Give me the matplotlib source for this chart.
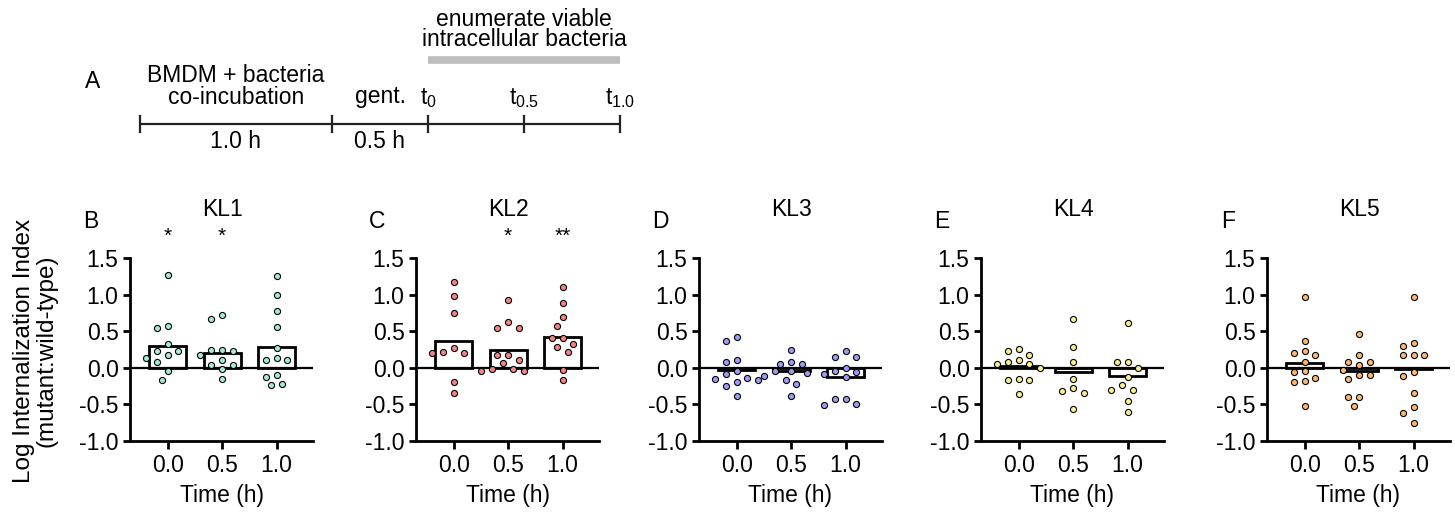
import numpy as np
import matplotlib
matplotlib.use("Agg")
import matplotlib.pyplot as plt

plt.rcParams['font.family'] = ['Liberation Sans', 'DejaVu Sans']
plt.rcParams['axes.unicode_minus'] = False
plt.rcParams['mathtext.fontset'] = 'custom'
plt.rcParams['mathtext.rm'] = 'Liberation Sans'
plt.rcParams['mathtext.it'] = 'Liberation Sans'

# ---------------- data ----------------
time_labels = ["0.0", "0.5", "1.0"]
panel_letters = ["B", "C", "D", "E", "F"]
panel_titles = ["KL1", "KL2", "KL3", "KL4", "KL5"]
panel_colors = ["#A3EBD3", "#F48383", "#9C9CF2", "#F8F08E", "#FBB86E"]

kl1_t00 = [1.27, 0.57, 0.55, 0.32, 0.23, 0.23, 0.17, 0.14, 0.08, -0.05, -0.16]
kl1_t05 = [0.72, 0.66, 0.25, 0.23, 0.25, 0.17, 0.11, 0.04, 0.04, -0.02, -0.15]
kl1_t10 = [1.25, 0.99, 0.77, 0.56, 0.27, 0.14, 0.10, 0.10, -0.10, -0.13, -0.22, -0.24]

kl2_t00 = [1.17, 0.98, 0.75, 0.27, 0.20, 0.20, 0.22, -0.20, -0.34]
kl2_t05 = [0.92, 0.62, 0.55, 0.54, 0.17, 0.17, 0.10, 0.07, -0.01, -0.02, -0.05, -0.05]
kl2_t10 = [1.11, 0.89, 0.69, 0.57, 0.41, 0.41, 0.33, 0.29, 0.22, -0.03, -0.16]

kl3_t00 = [0.42, 0.36, 0.11, 0.08, -0.05, -0.08, -0.15, -0.14, -0.17, -0.20, -0.25, -0.38]
kl3_t05 = [0.25, 0.08, 0.05, 0.05, -0.05, -0.05, -0.07, -0.11, -0.16, -0.22, -0.39]
kl3_t10 = [0.23, 0.15, 0.15, 0.00, -0.06, -0.05, -0.08, -0.13, -0.43, -0.43, -0.51, -0.49]

kl4_t00 = [0.26, 0.23, 0.18, 0.11, 0.08, 0.05, 0.05, 0.00, -0.15, -0.17, -0.16, -0.36]
kl4_t05 = [0.66, 0.28, 0.08, -0.15, -0.28, -0.35, -0.32, -0.56]
kl4_t10 = [0.61, 0.08, 0.08, 0.00, -0.13, -0.23, -0.31, -0.30, -0.45, -0.60]

kl5_t00 = [0.97, 0.36, 0.23, 0.20, 0.17, 0.08, -0.05, -0.06, -0.14, -0.18, -0.20, -0.52]
kl5_t05 = [0.46, 0.17, 0.08, 0.08, 0.04, -0.03, -0.10, -0.10, -0.15, -0.40, -0.40, -0.52]
kl5_t10 = [0.97, 0.34, 0.30, 0.17, 0.17, 0.17, -0.06, -0.11, -0.34, -0.54, -0.62, -0.75]

kl1_bars = [0.30, 0.20, 0.29]
kl2_bars = [0.36, 0.24, 0.42]
kl3_bars = [-0.03, -0.04, -0.13]
kl4_bars = [0.02, -0.06, -0.11]
kl5_bars = [0.06, -0.05, -0.01]

kl1_stars = ["*", "*", ""]
kl2_stars = ["", "*", "**"]
kl3_stars = ["", "", ""]
kl4_stars = ["", "", ""]
kl5_stars = ["", "", ""]

# timeline (schematic, in hours)
phase_labels = ["BMDM + bacteria\nco-incubation", "gent."]
phase_hours = [1.0, 0.5]
phase_duration_labels = ["1.0 h", "0.5 h"]
sample_hours = [0.0, 0.5, 1.0]
sample_labels = ["0", "0.5", "1.0"]

panels = [
    (kl1_t00, kl1_t05, kl1_t10, kl1_bars, kl1_stars),
    (kl2_t00, kl2_t05, kl2_t10, kl2_bars, kl2_stars),
    (kl3_t00, kl3_t05, kl3_t10, kl3_bars, kl3_stars),
    (kl4_t00, kl4_t05, kl4_t10, kl4_bars, kl4_stars),
    (kl5_t00, kl5_t05, kl5_t10, kl5_bars, kl5_stars),
]

# ---------------- layout ----------------
W, H = 1455, 515
fig = plt.figure(figsize=(W / 100, H / 100), dpi=100)


def px_axes(l, t, r, b):
    return fig.add_axes([l / W, 1 - b / H, (r - l) / W, (b - t) / H])


XLIM = (-0.69, 2.67)
YLIM = (-1.0, 1.5)
AX_W, AX_TOP, AX_BOT = 183, 258, 441
XS = AX_W / (XLIM[1] - XLIM[0])
YS = (AX_BOT - AX_TOP) / (YLIM[1] - YLIM[0])


def swarm(vals, step=0.1, dmin=9.0):
    vals = np.asarray(vals, dtype=float)
    order = np.argsort(-vals, kind="stable")
    placed = []
    offs = np.zeros(len(vals))
    ks = [0]
    for k in range(1, 30):
        ks += [-k, k]
    for idx in order:
        y = vals[idx] * YS
        for k in ks:
            x = k * step * XS
            if all((x - px) ** 2 + (y - py) ** 2 >= dmin ** 2 for px, py in placed):
                break
        offs[idx] = k * step
        placed.append((x, y))
    return offs


FS = 16.5
lefts = [130, 416, 699, 981, 1267]
for i, (g0, g1, g2, bars, stars) in enumerate(panels):
    ax = px_axes(lefts[i], AX_TOP, lefts[i] + AX_W, AX_BOT)
    ax.set_xlim(*XLIM)
    ax.set_ylim(*YLIM)
    xpos = np.arange(3)
    ax.bar(xpos, bars, width=0.68, color="white", edgecolor="black",
           linewidth=2.0, zorder=2)
    ax.axhline(0, color="black", lw=1.6, zorder=3)
    for gx, vals in enumerate([g0, g1, g2]):
        offs = swarm(vals)
        ax.plot(gx + offs, vals, "o", ms=4.4, mfc=panel_colors[i], mec="black",
                mew=0.8, zorder=4, clip_on=False, ls="none")
    for s in ["top", "right"]:
        ax.spines[s].set_visible(False)
    for s in ["left", "bottom"]:
        ax.spines[s].set_linewidth(2.0)
    yt = [-1.0, -0.5, 0.0, 0.5, 1.0, 1.5]
    ax.set_yticks(yt)
    ax.set_yticklabels([f"{v:.1f}" for v in yt])
    ax.set_xticks(xpos)
    ax.set_xticklabels(time_labels)
    ax.tick_params(axis="y", length=5.2, width=2.0, labelsize=FS, pad=3)
    ax.tick_params(axis="x", length=5.5, width=2.0, labelsize=FS, pad=3.5)
    ax.set_xlabel("Time (h)", fontsize=FS, labelpad=5.5)
    ax.text(1, YLIM[1] + (AX_TOP - 209) / YS, panel_titles[i], ha="center",
            va="center", fontsize=FS, clip_on=False)
    ax.text(XLIM[0] - 39 / XS, YLIM[1] + (AX_TOP - 222) / YS, panel_letters[i],
            ha="center", va="center", fontsize=FS, clip_on=False)
    for gx, st in enumerate(stars):
        if st:
            ax.text(gx, YLIM[1] + (AX_TOP - 236) / YS, st, ha="center",
                    va="center", fontsize=15, clip_on=False)

fig.text(35 / W, 1 - 351 / H, "Log Internalization Index\n(mutant:wild-type)",
         rotation=90, ha="center", va="center", fontsize=17.5, linespacing=1.05)

# ---------------- timeline (panel A) ----------------
T_TOP, T_BOT = 0, 160
tl = px_axes(140, T_TOP, 620, T_BOT)
total = sum(phase_hours) + sample_hours[-1]
tl.set_xlim(0, total)
tl.set_ylim(T_BOT, T_TOP)
tl.axis("off")
LINE_Y = 124
tl.plot([0, total], [LINE_Y, LINE_Y], color="#222222", lw=1.6, clip_on=False,
        solid_capstyle="butt")
bounds = [0.0]
for h in phase_hours:
    bounds.append(bounds[-1] + h)
start = bounds[-1]
samples = [start + s for s in sample_hours]
for b in bounds[:-1] + samples:
    tl.plot([b, b], [LINE_Y - 8, LINE_Y + 8], color="#222222", lw=1.6,
            clip_on=False)
for j, lab in enumerate(phase_labels):
    mid = (bounds[j] + bounds[j + 1]) / 2
    lines = lab.split("\n")
    if len(lines) == 2:
        tl.text(mid, 75, lines[0], ha="center", va="center", fontsize=FS)
        tl.text(mid, 97, lines[1], ha="center", va="center", fontsize=FS)
    else:
        tl.text(mid, 97, lines[0], ha="center", va="center", fontsize=FS)
    tl.text(mid, 141, phase_duration_labels[j], ha="center", va="center",
            fontsize=FS)
for s, lab in zip(samples, sample_labels):
    tl.text(s, 98, r"$\mathregular{t_{%s}}$" % lab, ha="center", va="center",
            fontsize=FS)
tl.plot([samples[0], samples[-1]], [60, 60], color="#BEBEBE", lw=5.5,
        solid_capstyle="butt", clip_on=False)
tl.text((samples[0] + samples[-1]) / 2, 19, "enumerate viable", ha="center",
        va="center", fontsize=FS)
tl.text((samples[0] + samples[-1]) / 2, 40, "intracellular bacteria",
        ha="center", va="center", fontsize=FS)
tl.text(-(140 - 93) / (480 / total), 82, "A", ha="center", va="center",
        fontsize=FS)

fig.savefig("out.png", dpi=100)
